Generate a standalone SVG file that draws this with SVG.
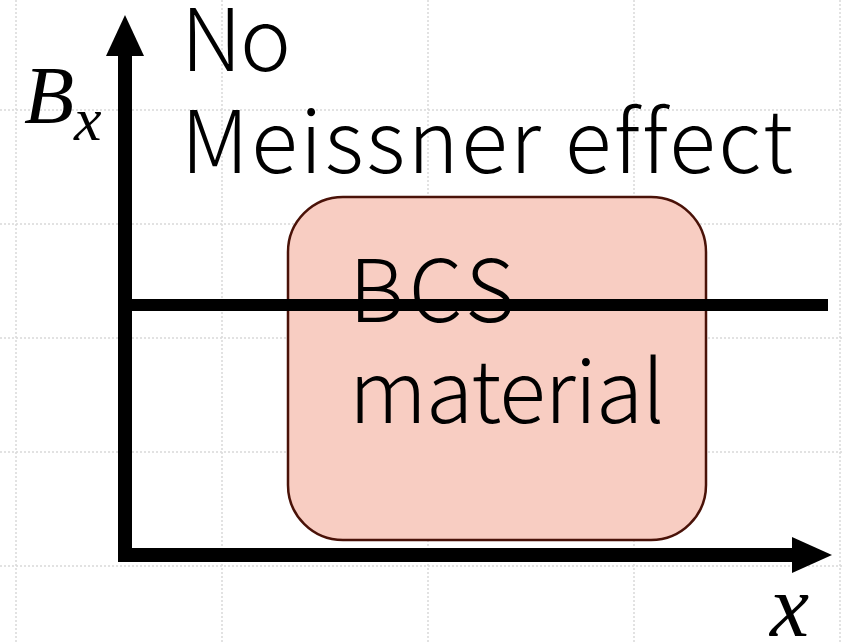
<svg xmlns="http://www.w3.org/2000/svg" width="844" height="642" viewBox="0 0 844 642">
<style>
.grid{stroke:#d9d9d9;stroke-width:1.5;stroke-dasharray:2 2;fill:none}
.lbl{font-family:"Noto Sans CJK JP","Noto Sans",sans-serif;font-size:86px;font-weight:300;fill:#000;font-variant-ligatures:none;font-feature-settings:"liga" 0}
.math{font-family:"Liberation Serif",serif;font-style:italic;fill:#000}
.axis{stroke:#000;stroke-width:14;fill:none}
</style>
<rect width="844" height="642" fill="#fff"/>
<g id="grid">
<line class="grid" x1="16" y1="0" x2="16" y2="642"/>
<line class="grid" x1="222" y1="0" x2="222" y2="642"/>
<line class="grid" x1="428" y1="0" x2="428" y2="642"/>
<line class="grid" x1="634" y1="0" x2="634" y2="642"/>
<line class="grid" x1="840" y1="0" x2="840" y2="642"/>
<line class="grid" x1="0" y1="110" x2="844" y2="110"/>
<line class="grid" x1="0" y1="224" x2="844" y2="224"/>
<line class="grid" x1="0" y1="338" x2="844" y2="338"/>
<line class="grid" x1="0" y1="452" x2="844" y2="452"/>
<line class="grid" x1="0" y1="566" x2="844" y2="566"/>
</g>
<g id="material">
<rect x="288" y="197" width="418" height="343" rx="55" ry="55" fill="#f8cdc2" stroke="#4a1208" stroke-width="2.5"/>
</g>
<g id="connectors">
<path class="axis" d="M125,56 L125,555 L792,555" stroke-linejoin="miter"/>
<path d="M106,56 L125,15 L144,56 Z" fill="#000"/>
<path d="M792,537 L832,555 L792,573 Z" fill="#000"/>
<line x1="132" y1="305" x2="828" y2="305" stroke="#000" stroke-width="12"/>
</g>
<g id="material-label">
<text class="lbl" x="349" y="322" textLength="166" lengthAdjust="spacing">BCS</text>
<text class="lbl" x="349" y="423" textLength="316" lengthAdjust="spacing">material</text>
</g>
<g id="title">
<text class="lbl" x="181" y="71" textLength="110" lengthAdjust="spacing">No</text>
<text class="lbl" x="181" y="173" textLength="612" lengthAdjust="spacing">Meissner effect</text>
</g>
<g id="ylabel">
<text class="math" x="24" y="123" font-size="82">B<tspan font-size="62" dy="17">x</tspan></text>
</g>
<g id="xlabel">
<text class="math" x="770" y="636" font-size="88">x</text>
</g>
</svg>
